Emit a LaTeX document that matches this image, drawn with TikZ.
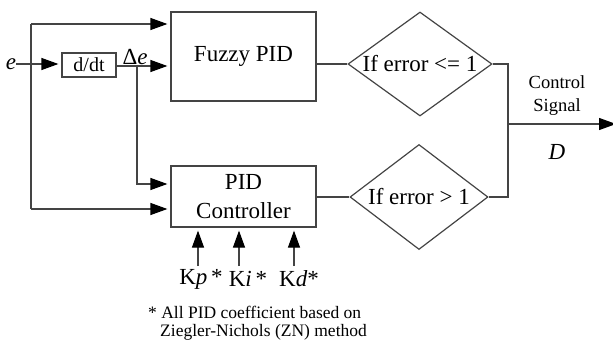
\documentclass[tikz,border=0pt]{standalone}
\usepackage{fontspec}
\setmainfont{Liberation Serif}
\newfontfamily\tnr{Liberation Serif}
\usetikzlibrary{shapes.geometric,arrows.meta}
\definecolor{linegray}{HTML}{444444}
\begin{document}
\begin{tikzpicture}[x=1pt,y=-1pt,
  ln/.style={draw=linegray, line width=1.2pt},
  tip/.style={-{Triangle[length=17pt,width=12pt,color=black]}},
  arr/.style={ln, shorten >=3pt, tip},
  blk/.style={draw=linegray, line width=1.2pt, rectangle, inner sep=0pt, align=center},
  dia/.style={draw=linegray, line width=1.2pt, diamond, inner sep=0pt},
  big/.style={font=\tnr\fontsize{23}{29}\selectfont},
  small/.style={font=\tnr\fontsize{17.5}{20}\selectfont},
  txt/.style={inner sep=0pt, align=center}]
\useasboundingbox (0,0) rectangle (613,340);

% blocks
\node[blk, big, minimum width=145pt, minimum height=89pt] (fuzzy) at (243.5,56.5) {Fuzzy PID};
\node[blk, big, minimum width=145pt, minimum height=61pt] (pid) at (243.5,196.5) {PID\\Controller};
\node[blk, font=\tnr\fontsize{20}{24}\selectfont, minimum width=54pt, minimum height=24pt] (ddt) at (89,65) {d/dt};
\node[dia, minimum width=144pt, minimum height=104pt,
  label={[big, txt]center:If error <= 1}] (d1) at (420,64) {};
\node[dia, minimum width=138pt, minimum height=105pt,
  label={[big, txt]center:If error > 1}] (d2) at (419,197) {};

% labels
\node[txt, big] (e) at (11,64) {\textit{e}};
\node[txt, big, anchor=base] (de) at (135,64) {Δ\textit{e}};
\node[txt, font=\tnr\fontsize{18.5}{23}\selectfont] (cs) at (557,96) {Control\\Signal};
\node[txt, big] (D) at (557,152) {\textit{D}};
\node[txt, big] (kp) at (201,279) {K\textit{p}\,*};
\node[txt, big] (ki) at (248,279) {K\textit{i}\,*};
\node[txt, big] (kd) at (299,279) {K\textit{d}*};
\node[small, inner sep=0pt, anchor=west] (fn1) at (148,312) {* All PID coefficient based on};
\node[small, inner sep=0pt, anchor=west] (fn2) at (160,332) {Ziegler-Nichols (ZN) method};

% coordinates
\coordinate (vt) at (31,24);
\coordinate (vb) at (31,209);
\coordinate (br) at (137,66);
\coordinate (brb) at (137,184);
\coordinate (jt) at (508,64);
\coordinate (jb) at (508,197);
\coordinate (jo) at (508,124);
\coordinate (out) at (616,124);
\coordinate (kpb) at (198,266);
\coordinate (kib) at (239,266);
\coordinate (kdb) at (294,266);

% connectors
\draw[arr] (e.east) -- (e.east -| ddt.west);
\draw[ln] (vt) -- (vb);
\draw[arr] (vt) -- (vt -| fuzzy.west);
\draw[arr] (vb) -- (vb -| pid.west);
\draw[arr] (ddt.east |- br) -- (br -| fuzzy.west);
\draw[arr] (br) -- (brb) -- (brb -| pid.west);
\draw[ln] (d1.west -| fuzzy.east) -- (d1.west);
\draw[ln] (d2.west -| pid.east) -- (d2.west);
\draw[ln] (d1.east) -- (jt) -- (jb) -- (d2.east);
\draw[ln, tip] (jo) -- (out);
\draw[arr] (kpb) -- (kpb |- pid.south);
\draw[arr] (kib) -- (kib |- pid.south);
\draw[arr] (kdb) -- (kdb |- pid.south);
\end{tikzpicture}
\end{document}
